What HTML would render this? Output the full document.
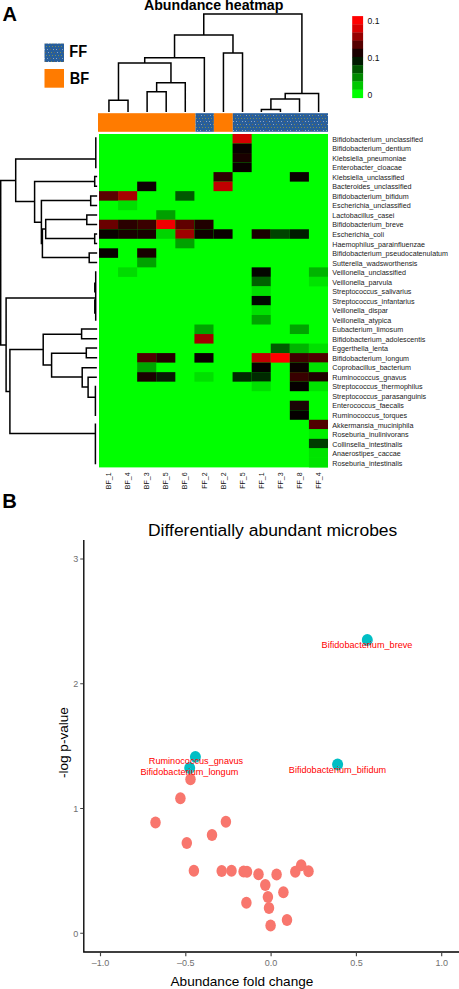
<!DOCTYPE html><html><head><meta charset="utf-8"><style>html,body{margin:0;padding:0;background:#fff;width:459px;height:989px;overflow:hidden}svg{display:block}text{font-family:"Liberation Sans",sans-serif}</style></head><body>
<svg width="459" height="989" viewBox="0 0 459 989">
<defs><pattern id="dots" width="9" height="9" patternUnits="userSpaceOnUse"><rect width="9" height="9" fill="#275e9b"/><rect x="1" y="1" width="1" height="1" fill="#7b8c55"/><rect x="4" y="1" width="1" height="1" fill="#7b8c55"/><rect x="7" y="1" width="1" height="1" fill="#7b8c55"/><rect x="2" y="4" width="1" height="1" fill="#8ea5c5"/><rect x="5" y="4" width="1" height="1" fill="#6a6652"/><rect x="8" y="4" width="1" height="1" fill="#8ea5c5"/><rect x="0" y="7" width="1" height="1" fill="#6a6652"/><rect x="3" y="7" width="1" height="1" fill="#8ea5c5"/><rect x="6" y="7" width="1" height="1" fill="#7b8c55"/></pattern><pattern id="sdots" width="4" height="4" patternUnits="userSpaceOnUse"><rect width="4" height="4" fill="#f8766d"/><circle cx="1" cy="1" r="0.5" fill="#c77a80"/></pattern></defs>
<text x="2.5" y="20.6" font-size="20" font-weight="bold">A</text>
<text x="143.9" y="10.2" font-size="14.2" font-weight="bold">Abundance heatmap</text>
<rect x="44.5" y="43.5" width="19.5" height="18.5" fill="url(#dots)"/>
<rect x="44.5" y="69" width="19.5" height="18.7" fill="#ff7b00"/>
<text transform="translate(69.3,57.4) scale(1,1.07)" font-size="14.6" font-weight="bold">FF</text>
<text transform="translate(69.8,83.6) scale(1,1.07)" font-size="14.6" font-weight="bold">BF</text>
<rect x="352.2" y="16.10" width="10.9" height="8.47" fill="#ff0000"/>
<rect x="352.2" y="24.27" width="10.9" height="8.47" fill="#d80000"/>
<rect x="352.2" y="32.44" width="10.9" height="8.47" fill="#960000"/>
<rect x="352.2" y="40.61" width="10.9" height="8.47" fill="#560000"/>
<rect x="352.2" y="48.78" width="10.9" height="8.47" fill="#1a0000"/>
<rect x="352.2" y="56.95" width="10.9" height="8.47" fill="#001a00"/>
<rect x="352.2" y="65.12" width="10.9" height="8.47" fill="#005500"/>
<rect x="352.2" y="73.29" width="10.9" height="8.47" fill="#008a00"/>
<rect x="352.2" y="81.46" width="10.9" height="8.47" fill="#00c800"/>
<rect x="352.2" y="89.63" width="10.9" height="8.47" fill="#00ff00"/>
<text x="367.6" y="23.9" font-size="8.6" fill="#111">0.1</text>
<text x="367.6" y="61.2" font-size="8.6" fill="#111">0.1</text>
<text x="367.6" y="97.6" font-size="8.6" fill="#111">0</text>
<rect x="99.0" y="134.0" width="229.0" height="333.4" fill="#00ff00"/>
<rect x="232.58" y="134.00" width="19.08" height="9.53" fill="#d40000"/>
<rect x="232.58" y="143.53" width="19.08" height="9.53" fill="#0a0000"/>
<rect x="232.58" y="153.05" width="19.08" height="9.53" fill="#1a0000"/>
<rect x="232.58" y="162.58" width="19.08" height="9.53" fill="#0a0000"/>
<rect x="213.50" y="172.10" width="19.08" height="9.53" fill="#2e0000"/>
<rect x="289.83" y="172.10" width="19.08" height="9.53" fill="#0a0000"/>
<rect x="137.17" y="181.63" width="19.08" height="9.53" fill="#0d0003"/>
<rect x="213.50" y="181.63" width="19.08" height="9.53" fill="#c00000"/>
<rect x="99.00" y="191.15" width="19.08" height="9.53" fill="#5a0000"/>
<rect x="118.08" y="191.15" width="19.08" height="9.53" fill="#a80000"/>
<rect x="175.33" y="191.15" width="19.08" height="9.53" fill="#005a00"/>
<rect x="118.08" y="200.68" width="19.08" height="9.53" fill="#00e000"/>
<rect x="156.25" y="210.21" width="19.08" height="9.53" fill="#00a000"/>
<rect x="99.00" y="219.73" width="19.08" height="9.53" fill="#6a0000"/>
<rect x="118.08" y="219.73" width="19.08" height="9.53" fill="#2a0000"/>
<rect x="137.17" y="219.73" width="19.08" height="9.53" fill="#3a0000"/>
<rect x="156.25" y="219.73" width="19.08" height="9.53" fill="#f00000"/>
<rect x="175.33" y="219.73" width="19.08" height="9.53" fill="#600000"/>
<rect x="194.42" y="219.73" width="19.08" height="9.53" fill="#200000"/>
<rect x="99.00" y="229.26" width="19.08" height="9.53" fill="#0a0000"/>
<rect x="118.08" y="229.26" width="19.08" height="9.53" fill="#180000"/>
<rect x="137.17" y="229.26" width="19.08" height="9.53" fill="#180000"/>
<rect x="156.25" y="229.26" width="19.08" height="9.53" fill="#00d400"/>
<rect x="175.33" y="229.26" width="19.08" height="9.53" fill="#a00000"/>
<rect x="194.42" y="229.26" width="19.08" height="9.53" fill="#100000"/>
<rect x="213.50" y="229.26" width="19.08" height="9.53" fill="#0a0000"/>
<rect x="251.67" y="229.26" width="19.08" height="9.53" fill="#1a0000"/>
<rect x="270.75" y="229.26" width="19.08" height="9.53" fill="#004400"/>
<rect x="289.83" y="229.26" width="19.08" height="9.53" fill="#001c00"/>
<rect x="175.33" y="238.78" width="19.08" height="9.53" fill="#00a200"/>
<rect x="99.00" y="248.31" width="19.08" height="9.53" fill="#080000"/>
<rect x="137.17" y="248.31" width="19.08" height="9.53" fill="#180000"/>
<rect x="137.17" y="257.83" width="19.08" height="9.53" fill="#00a200"/>
<rect x="118.08" y="267.36" width="19.08" height="9.53" fill="#00dc00"/>
<rect x="251.67" y="267.36" width="19.08" height="9.53" fill="#040600"/>
<rect x="308.92" y="267.36" width="19.08" height="9.53" fill="#00b400"/>
<rect x="251.67" y="276.89" width="19.08" height="9.53" fill="#006000"/>
<rect x="308.92" y="276.89" width="19.08" height="9.53" fill="#00e400"/>
<rect x="251.67" y="286.41" width="19.08" height="9.53" fill="#00e000"/>
<rect x="251.67" y="295.94" width="19.08" height="9.53" fill="#000800"/>
<rect x="251.67" y="305.46" width="19.08" height="9.53" fill="#00e000"/>
<rect x="251.67" y="314.99" width="19.08" height="9.53" fill="#00a400"/>
<rect x="194.42" y="324.51" width="19.08" height="9.53" fill="#00a400"/>
<rect x="289.83" y="324.51" width="19.08" height="9.53" fill="#00a400"/>
<rect x="194.42" y="334.04" width="19.08" height="9.53" fill="#a00000"/>
<rect x="270.75" y="343.57" width="19.08" height="9.53" fill="#005c00"/>
<rect x="289.83" y="343.57" width="19.08" height="9.53" fill="#00b400"/>
<rect x="308.92" y="343.57" width="19.08" height="9.53" fill="#00e000"/>
<rect x="137.17" y="353.09" width="19.08" height="9.53" fill="#500000"/>
<rect x="156.25" y="353.09" width="19.08" height="9.53" fill="#250000"/>
<rect x="194.42" y="353.09" width="19.08" height="9.53" fill="#0a0000"/>
<rect x="251.67" y="353.09" width="19.08" height="9.53" fill="#c00000"/>
<rect x="270.75" y="353.09" width="19.08" height="9.53" fill="#ff0000"/>
<rect x="289.83" y="353.09" width="19.08" height="9.53" fill="#400000"/>
<rect x="308.92" y="353.09" width="19.08" height="9.53" fill="#500000"/>
<rect x="137.17" y="362.62" width="19.08" height="9.53" fill="#00a400"/>
<rect x="251.67" y="362.62" width="19.08" height="9.53" fill="#050000"/>
<rect x="289.83" y="362.62" width="19.08" height="9.53" fill="#0a0000"/>
<rect x="308.92" y="362.62" width="19.08" height="9.53" fill="#00e400"/>
<rect x="137.17" y="372.14" width="19.08" height="9.53" fill="#1a0000"/>
<rect x="156.25" y="372.14" width="19.08" height="9.53" fill="#081a04"/>
<rect x="194.42" y="372.14" width="19.08" height="9.53" fill="#00e000"/>
<rect x="232.58" y="372.14" width="19.08" height="9.53" fill="#002a00"/>
<rect x="251.67" y="372.14" width="19.08" height="9.53" fill="#002a00"/>
<rect x="289.83" y="372.14" width="19.08" height="9.53" fill="#380000"/>
<rect x="308.92" y="372.14" width="19.08" height="9.53" fill="#200000"/>
<rect x="251.67" y="381.67" width="19.08" height="9.53" fill="#00e000"/>
<rect x="289.83" y="381.67" width="19.08" height="9.53" fill="#050000"/>
<rect x="308.92" y="381.67" width="19.08" height="9.53" fill="#00e400"/>
<rect x="289.83" y="400.72" width="19.08" height="9.53" fill="#1a0505"/>
<rect x="289.83" y="410.25" width="19.08" height="9.53" fill="#050000"/>
<rect x="308.92" y="419.77" width="19.08" height="9.53" fill="#500000"/>
<rect x="308.92" y="429.30" width="19.08" height="9.53" fill="#00f000"/>
<rect x="308.92" y="438.82" width="19.08" height="9.53" fill="#003c00"/>
<rect x="308.92" y="448.35" width="19.08" height="9.53" fill="#00e400"/>
<rect x="308.92" y="457.87" width="19.08" height="9.53" fill="#00e400"/>
<rect x="98" y="113.2" width="97.5" height="18.6" fill="#ff7b00"/>
<rect x="195.5" y="113.2" width="18.4" height="18.6" fill="url(#dots)"/>
<rect x="213.9" y="113.2" width="18.9" height="18.6" fill="#ff7b00"/>
<rect x="232.8" y="113.2" width="95.2" height="18.6" fill="url(#dots)"/>
<g font-size="7.17" fill="#222">
<text x="332.3" y="141.76">Bifidobacterium_unclassified</text>
<text x="332.3" y="151.29">Bifidobacterium_dentium</text>
<text x="332.3" y="160.81">Klebsiella_pneumoniae</text>
<text x="332.3" y="170.34">Enterobacter_cloacae</text>
<text x="332.3" y="179.87">Klebsiella_unclassified</text>
<text x="332.3" y="189.39">Bacteroides_unclassified</text>
<text x="332.3" y="198.92">Bifidobacterium_bifidum</text>
<text x="332.3" y="208.44">Escherichia_unclassified</text>
<text x="332.3" y="217.97">Lactobacillus_casei</text>
<text x="332.3" y="227.49">Bifidobacterium_breve</text>
<text x="332.3" y="237.02">Escherichia_coli</text>
<text x="332.3" y="246.55">Haemophilus_parainfluenzae</text>
<text x="332.3" y="256.07">Bifidobacterium_pseudocatenulatum</text>
<text x="332.3" y="265.60">Sutterella_wadsworthensis</text>
<text x="332.3" y="275.12">Veillonella_unclassified</text>
<text x="332.3" y="284.65">Veillonella_parvula</text>
<text x="332.3" y="294.17">Streptococcus_salivarius</text>
<text x="332.3" y="303.70">Streptococcus_infantarius</text>
<text x="332.3" y="313.23">Veillonella_dispar</text>
<text x="332.3" y="322.75">Veillonella_atypica</text>
<text x="332.3" y="332.28">Eubacterium_limosum</text>
<text x="332.3" y="341.80">Bifidobacterium_adolescentis</text>
<text x="332.3" y="351.33">Eggerthella_lenta</text>
<text x="332.3" y="360.85">Bifidobacterium_longum</text>
<text x="332.3" y="370.38">Coprobacillus_bacterium</text>
<text x="332.3" y="379.91">Ruminococcus_gnavus</text>
<text x="332.3" y="389.43">Streptococcus_thermophilus</text>
<text x="332.3" y="398.96">Streptococcus_parasanguinis</text>
<text x="332.3" y="408.48">Enterococcus_faecalis</text>
<text x="332.3" y="418.01">Ruminococcus_torques</text>
<text x="332.3" y="427.53">Akkermansia_muciniphila</text>
<text x="332.3" y="437.06">Roseburia_inulinivorans</text>
<text x="332.3" y="446.59">Collinsella_intestinalis</text>
<text x="332.3" y="456.11">Anaerostipes_caccae</text>
<text x="332.3" y="465.64">Roseburia_intestinalis</text>
</g>
<g font-size="7" fill="#111">
<text transform="translate(111.14,472.4) rotate(-90)" text-anchor="end">BF_1</text>
<text transform="translate(130.22,472.4) rotate(-90)" text-anchor="end">BF_4</text>
<text transform="translate(149.31,472.4) rotate(-90)" text-anchor="end">BF_3</text>
<text transform="translate(168.39,472.4) rotate(-90)" text-anchor="end">BF_5</text>
<text transform="translate(187.47,472.4) rotate(-90)" text-anchor="end">BF_6</text>
<text transform="translate(206.56,472.4) rotate(-90)" text-anchor="end">FF_2</text>
<text transform="translate(225.64,472.4) rotate(-90)" text-anchor="end">BF_2</text>
<text transform="translate(244.72,472.4) rotate(-90)" text-anchor="end">FF_5</text>
<text transform="translate(263.81,472.4) rotate(-90)" text-anchor="end">FF_1</text>
<text transform="translate(282.89,472.4) rotate(-90)" text-anchor="end">FF_3</text>
<text transform="translate(301.98,472.4) rotate(-90)" text-anchor="end">FF_8</text>
<text transform="translate(321.06,472.4) rotate(-90)" text-anchor="end">FF_4</text>
</g>
<path d="M108.94 100.20L128.03 100.20 M108.94 100.20L108.94 111.20 M128.03 100.20L128.03 111.20 M147.11 91.80L166.19 91.80 M147.11 91.80L147.11 111.20 M166.19 91.80L166.19 111.20 M156.65 82.70L185.28 82.70 M156.65 82.70L156.65 91.80 M185.28 82.70L185.28 111.20 M118.48 63.10L170.96 63.10 M118.48 63.10L118.48 100.20 M170.96 63.10L170.96 82.70 M144.72 57.80L204.36 57.80 M144.72 57.80L144.72 63.10 M204.36 57.80L204.36 111.20 M223.44 52.90L242.53 52.90 M223.44 52.90L223.44 111.20 M242.53 52.90L242.53 111.20 M174.54 34.90L232.98 34.90 M174.54 34.90L174.54 57.80 M232.98 34.90L232.98 52.90 M261.36 109.50L280.44 109.50 M261.36 109.50L261.36 111.20 M280.44 109.50L280.44 111.20 M270.90 98.90L299.52 98.90 M270.90 98.90L270.90 109.50 M299.52 98.90L299.52 111.20 M285.21 93.60L318.61 93.60 M285.21 93.60L285.21 98.90 M318.61 93.60L318.61 111.20 M203.76 14.10L301.91 14.10 M203.76 14.10L203.76 34.90 M301.91 14.10L301.91 93.60 M95.80 138.10L95.80 167.60 M15.70 159.00L95.80 159.00 M94.70 176.60L94.70 186.20 M94.70 176.60L96.40 176.60 M94.70 186.20L96.40 186.20 M34.60 181.50L94.70 181.50 M90.70 196.10L90.70 205.40 M90.70 196.10L96.40 196.10 M90.70 205.40L96.40 205.40 M41.40 200.50L90.70 200.50 M86.80 215.00L86.80 224.60 M86.80 215.00L96.40 215.00 M86.80 224.60L96.40 224.60 M45.70 219.60L86.80 219.60 M94.70 233.90L94.70 243.60 M94.70 233.90L96.40 233.90 M94.70 243.60L96.40 243.60 M45.70 238.50L94.70 238.50 M89.20 253.10L89.20 262.50 M89.20 253.10L96.40 253.10 M89.20 262.50L96.40 262.50 M42.40 257.60L89.20 257.60 M45.70 219.60L45.70 238.50 M42.40 229.00L45.70 229.00 M42.40 229.00L42.40 257.60 M41.40 243.40L42.40 243.40 M41.40 200.50L41.40 243.40 M34.60 222.20L41.40 222.20 M34.60 181.50L34.60 222.20 M15.70 201.50L34.60 201.50 M15.70 159.00L15.70 201.50 M0.70 180.50L15.70 180.50 M0.70 180.50L0.70 344.90 M0.70 344.90L6.10 344.90 M95.70 271.90L95.70 320.10 M94.80 283.20L94.80 291.80 M94.80 299.90L94.80 313.00 M6.10 297.90L95.70 297.90 M6.10 297.90L6.10 391.60 M6.10 391.60L9.90 391.60 M9.90 349.60L9.90 433.40 M9.90 349.60L43.20 349.60 M9.90 433.40L95.40 433.40 M43.20 334.20L43.20 365.10 M43.20 334.20L81.60 334.20 M43.20 365.10L51.60 365.10 M81.60 328.90L81.60 338.80 M81.60 328.90L96.40 328.90 M81.60 338.80L96.40 338.80 M51.60 353.20L51.60 377.00 M51.60 353.20L86.30 353.20 M51.60 377.00L82.20 377.00 M86.30 348.10L86.30 357.80 M86.30 348.10L96.40 348.10 M86.30 357.80L96.40 357.80 M82.20 367.80L82.20 387.00 M82.20 367.80L96.10 367.80 M82.20 387.00L88.10 387.00 M88.10 377.20L88.10 397.30 M88.10 377.20L96.10 377.20 M88.10 397.30L95.40 397.30 M95.40 386.40L95.40 415.30 M95.40 424.30L95.40 463.40" stroke="#000" stroke-width="1.5" stroke-linecap="square" fill="none"/>
<text x="2.2" y="508" font-size="20.2" font-weight="bold">B</text>
<text transform="translate(148,536.4) scale(1,0.93)" font-size="17.5">Differentially abundant microbes</text>
<path d="M83.8 540 L83.8 952.6 M83.1 952 L459 952" stroke="#000" stroke-width="1.35" fill="none"/>
<path d="M80.2 933.20L83.2 933.20M80.2 808.47L83.2 808.47M80.2 683.74L83.2 683.74M80.2 559.01L83.2 559.01M100.50 952.6L100.50 956.3M185.80 952.6L185.80 956.3M271.10 952.6L271.10 956.3M356.40 952.6L356.40 956.3M441.70 952.6L441.70 956.3" stroke="#444" stroke-width="1.15" fill="none"/>
<g font-size="9" fill="#707070" text-anchor="end">
<text x="78.2" y="936.50">0</text>
<text x="78.2" y="811.77">1</text>
<text x="78.2" y="687.04">2</text>
<text x="78.2" y="562.31">3</text>
</g><g font-size="9" fill="#707070" text-anchor="middle">
<text x="100.50" y="966">–1.0</text>
<text x="185.80" y="966">–0.5</text>
<text x="271.10" y="966">0.0</text>
<text x="356.40" y="966">0.5</text>
<text x="441.70" y="966">1.0</text>
</g>
<text x="170.5" y="985.8" font-size="13.6">Abundance fold change</text>
<text transform="translate(68.3,742.6) rotate(-90)" text-anchor="middle" font-size="13.6">-log p-value</text>
<ellipse cx="190.5" cy="779.2" rx="5.25" ry="6.0" fill="#f8766d"/>
<ellipse cx="180.4" cy="798.3" rx="5.25" ry="6.0" fill="#f8766d"/>
<ellipse cx="155.5" cy="822.6" rx="5.25" ry="6.0" fill="#f8766d"/>
<ellipse cx="225.9" cy="821.7" rx="5.25" ry="6.0" fill="#f8766d"/>
<ellipse cx="212.0" cy="835.0" rx="5.25" ry="6.0" fill="#f8766d"/>
<ellipse cx="186.8" cy="842.9" rx="5.25" ry="6.0" fill="#f8766d"/>
<ellipse cx="193.9" cy="870.7" rx="5.25" ry="6.0" fill="#f8766d"/>
<ellipse cx="221.7" cy="870.9" rx="5.25" ry="6.0" fill="#f8766d"/>
<ellipse cx="231.5" cy="870.8" rx="5.25" ry="6.0" fill="#f8766d"/>
<ellipse cx="243.6" cy="871.6" rx="5.25" ry="6.0" fill="#f8766d"/>
<ellipse cx="247.0" cy="871.7" rx="5.25" ry="6.0" fill="#f8766d"/>
<ellipse cx="258.5" cy="874.3" rx="5.25" ry="6.0" fill="#f8766d"/>
<ellipse cx="265.3" cy="885.1" rx="5.25" ry="6.0" fill="#f8766d"/>
<ellipse cx="267.9" cy="897.1" rx="5.25" ry="6.0" fill="#f8766d"/>
<ellipse cx="269.0" cy="907.9" rx="5.25" ry="6.0" fill="#f8766d"/>
<ellipse cx="276.6" cy="874.6" rx="5.25" ry="6.0" fill="#f8766d"/>
<ellipse cx="283.4" cy="892.3" rx="5.25" ry="6.0" fill="#f8766d"/>
<ellipse cx="246.4" cy="902.8" rx="5.25" ry="6.0" fill="#f8766d"/>
<ellipse cx="270.6" cy="925.6" rx="5.25" ry="6.0" fill="#f8766d"/>
<ellipse cx="287.0" cy="920.0" rx="5.25" ry="6.0" fill="#f8766d"/>
<ellipse cx="295.3" cy="871.8" rx="5.25" ry="6.0" fill="#f8766d"/>
<ellipse cx="301.2" cy="865.3" rx="5.25" ry="6.0" fill="#f8766d"/>
<ellipse cx="308.5" cy="871.2" rx="5.25" ry="6.0" fill="#f8766d"/>
<ellipse cx="367.3" cy="640.0" rx="5.5" ry="5.9" fill="#00bec4"/>
<ellipse cx="195.4" cy="756.8" rx="5.5" ry="5.9" fill="#00bec4"/>
<ellipse cx="189.7" cy="768.0" rx="5.5" ry="5.9" fill="#00bec4"/>
<ellipse cx="337.6" cy="764.5" rx="5.5" ry="5.9" fill="#00bec4"/>
<g font-size="9.15" fill="#ff0000" text-anchor="middle">
<text x="367.0" y="647.70">Bifidobacterium_breve</text>
<text x="196.0" y="764.40">Ruminococcus_gnavus</text>
<text x="189.4" y="775.20">Bifidobacterium_longum</text>
<text x="337.5" y="772.80">Bifidobacterium_bifidum</text>
</g>
</svg></body></html>
